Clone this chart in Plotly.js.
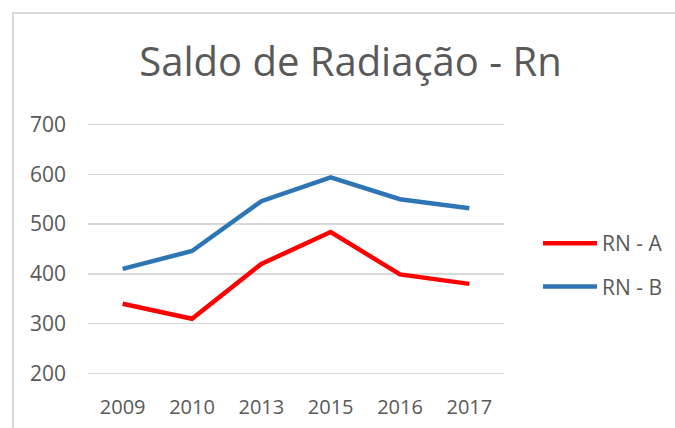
<!DOCTYPE html>
<html>
<head>
<meta charset="utf-8">
<script src="https://cdn.plot.ly/plotly-3.0.1.min.js"></script>
<style>
  html, body { margin: 0; padding: 0; background: #ffffff; }
  #frame { position: absolute; left: 12px; top: 12px; width: 700px; height: 450px;
           border-left: 2px solid #d9d9d9; border-top: 2px solid #d9d9d9; }
  #chart { position: absolute; left: 0; top: 0; width: 675px; height: 428px; }
</style>
</head>
<body>
<div id="frame"></div>
<div id="chart"></div>
<script>
const years = ['2009', '2010', '2013', '2015', '2016', '2017'];
const rnA = [340, 310, 420, 484, 399, 380];
const rnB = [410, 446, 546, 594, 550, 532];
const yTicks = [200, 300, 400, 500, 600, 700];

const fontFamily = '"Open Sans", "Noto Sans", sans-serif';
const textColor = '#595959';

const traces = [
  { x: years, y: rnA, name: 'RN - A', type: 'scatter', mode: 'lines',
    legendgroup: 'a',
    line: { color: '#ff0000', width: 4.5 } },
  { x: years, y: rnB, name: 'RN - B', type: 'scatter', mode: 'lines',
    legendgroup: 'b',
    line: { color: '#2e75b6', width: 4.5 } }
];

const layout = {
  width: 675, height: 428,
  paper_bgcolor: 'rgba(0,0,0,0)',
  plot_bgcolor: 'rgba(0,0,0,0)',
  margin: { l: 88, r: 171, t: 122, b: 52, pad: 0, autoexpand: false },
  title: {
    text: 'Saldo de Radiação - Rn',
    font: { family: fontFamily, size: 40, color: textColor },
    x: 350.5 / 675, xref: 'container', xanchor: 'center',
    y: 1 - 62 / 428, yref: 'container', yanchor: 'middle'
  },
  xaxis: {
    type: 'category',
    range: [-0.5, 5.5],
    showgrid: false, zeroline: false, showline: false,
    ticks: '',
    ticklabelstandoff: 17,
    tickfont: { family: fontFamily, size: 20, color: textColor }
  },
  yaxis: {
    range: [195, 705],
    tickvals: yTicks,
    ticktext: yTicks.map(String),
    showgrid: true, gridcolor: '#d9d9d9', gridwidth: 1.5,
    zeroline: false, showline: false, ticks: '',
    ticklabelstandoff: 21,
    tickfont: { family: fontFamily, size: 21, color: textColor }
  },
  showlegend: true,
  legend: {
    x: (538 - 88) / 416, xanchor: 'left',
    y: (376 - 223) / 254, yanchor: 'top',
    traceorder: 'grouped',
    tracegroupgap: 13,
    itemwidth: 54,
    bgcolor: 'rgba(0,0,0,0)',
    font: { family: fontFamily, size: 21, color: textColor }
  }
};

Plotly.newPlot('chart', traces, layout, { displayModeBar: false, staticPlot: true });
</script>
</body>
</html>
